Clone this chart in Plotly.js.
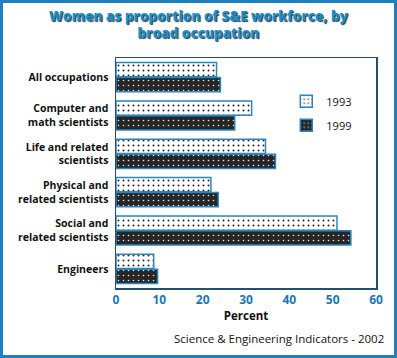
<!DOCTYPE html>
<html>
<head>
<meta charset="utf-8">
<script src="https://cdn.plot.ly/plotly-3.0.1.min.js"></script>
<style>
  html, body { margin: 0; padding: 0; background: #fff; }
  #wrap { position: relative; width: 397px; height: 358px; }
  #chart { position: absolute; left: 0; top: 0; width: 397px; height: 358px; }
  #frame { position: absolute; left: 0; top: 0; width: 397px; height: 358px; box-sizing: border-box;
           border: 3px solid #1f7fbf; pointer-events: none; }
</style>
</head>
<body>
<div id="wrap"><div id="chart"></div><div id="frame"></div></div>
<script>
const categories = [
  "All occupations",
  "Computer and<br>math scientists",
  "Life and related<br>scientists",
  "Physical and<br>related scientists",
  "Social and<br>related scientists",
  "Engineers"
];
const values1993 = [23.2, 31.3, 34.5, 21.9, 51.0, 8.7];
const values1999 = [24.1, 27.4, 36.8, 23.6, 54.2, 9.6];
const xTicks = [0, 10, 20, 30, 40, 50, 60];

const border = { color: "#2a86c0", width: 1.5 };

const traces = [
  {
    type: "bar", orientation: "h", name: "1993", legendgroup: "a",
    y: categories, x: values1993,
    marker: {
      color: "#ffffff",
      line: border,
      pattern: { shape: ".", fgcolor: "#222222", bgcolor: "#ffffff", size: 5, solidity: 0.12 }
    }
  },
  {
    type: "bar", orientation: "h", name: "1999", legendgroup: "b",
    y: categories, x: values1999,
    marker: {
      color: "#2a2a2a",
      line: border,
      pattern: { shape: ".", fgcolor: "#e8e8e8", bgcolor: "#262626", size: 5, solidity: 0.08 }
    }
  }
];

const layout = {
  width: 397, height: 358,
  paper_bgcolor: "#ffffff", plot_bgcolor: "#ffffff",
  margin: { l: 116, r: 21, t: 58, b: 70 },
  barmode: "group",
  bargap: 0.22,
  bargroupgap: 0.05,
  showlegend: true,
  title: {
    text: "Women as proportion of S&E workforce, by<br>broad occupation",
    x: 0.5, xanchor: "center", xref: "container",
    y: 0.942, yanchor: "middle", yref: "container",
    font: { family: "Open Sans, Lato, sans-serif", size: 13.5, color: "#1b8dcb", weight: 800,
            shadow: "1px 1px 1px #2a3a44" }
  },
  xaxis: {
    range: [0, 60],
    tickvals: xTicks,
    ticktext: xTicks.map(String),
    showgrid: false, zeroline: false,
    showline: true, mirror: true, linecolor: "#234e6c", linewidth: 1.5,
    ticks: "",
    tickfont: { family: "Open Sans, sans-serif", size: 12, color: "#1a78b0", weight: "bold" },
    title: { text: "Percent", standoff: 1,
             font: { family: "Open Sans, sans-serif", size: 11.5, color: "#111", weight: "bold" } },
    fixedrange: true
  },
  yaxis: {
    type: "category",
    autorange: "reversed",
    showgrid: false, zeroline: false,
    showline: true, mirror: true, linecolor: "#234e6c", linewidth: 1.5,
    ticks: "",
    ticklabelstandoff: 4,
    tickfont: { family: "Open Sans, sans-serif", size: 10.5, color: "#111", weight: "bold" },
    fixedrange: true
  },
  legend: {
    x: 0.655, y: 0.875, xanchor: "left", yanchor: "top",
    bgcolor: "rgba(0,0,0,0)", borderwidth: 0,
    font: { family: "Open Sans, sans-serif", size: 11, color: "#111" },
    tracegroupgap: 5, itemwidth: 30
  },
  annotations: [
    {
      text: "Science & Engineering Indicators - 2002",
      xref: "paper", yref: "paper", x: 1.04, y: -0.22, xanchor: "right", yanchor: "middle",
      showarrow: false,
      font: { family: "Open Sans, sans-serif", size: 11.5, color: "#111" }
    }
  ]
};

Plotly.newPlot("chart", traces, layout, { displayModeBar: false, staticPlot: true });
</script>
</body>
</html>
